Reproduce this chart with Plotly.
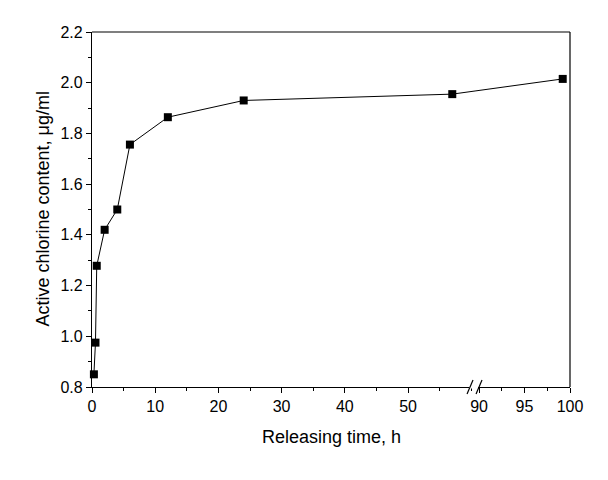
import plotly.graph_objects as go

# Data
time_h = [0.3, 0.55, 0.75, 2, 4, 6, 12, 24, 57, 99.2]
chlorine = [0.85, 0.975, 1.278, 1.42, 1.50, 1.756, 1.864, 1.93, 1.955, 2.015]

left_range = [0, 60.6]
right_range = [89.56, 100]
y_range = [0.8, 2.2]

x_ticks_left = [0, 10, 20, 30, 40, 50]
x_ticks_right = [90, 95, 100]
y_ticks = [0.8, 1.0, 1.2, 1.4, 1.6, 1.8, 2.0, 2.2]

split = 0.8013  # domain fraction of left segment

left_x = [t for t in time_h if t <= left_range[1]]
left_y = [c for t, c in zip(time_h, chlorine) if t <= left_range[1]]
right_x = [t for t in time_h if t >= right_range[0]]
right_y = [c for t, c in zip(time_h, chlorine) if t >= right_range[0]]

# straight visual connector across the axis break (in display fractions)
xa, ya = left_x[-1], left_y[-1]
xb, yb = right_x[0], right_y[0]
fa = split * (xa - left_range[0]) / (left_range[1] - left_range[0])
fb = split + (1 - split) * (xb - right_range[0]) / (right_range[1] - right_range[0])
y_break = ya + (yb - ya) * (split - fa) / (fb - fa)

FONT = "Liberation Sans, Arial, sans-serif"

fig = go.Figure()
line_style = dict(color="black", width=1)
marker_style = dict(symbol="square", size=8, color="black")

fig.add_trace(go.Scatter(x=left_x + [left_range[1]], y=left_y + [y_break], mode="lines",
                         line=line_style, xaxis="x", yaxis="y", showlegend=False,
                         hoverinfo="skip"))
fig.add_trace(go.Scatter(x=[right_range[0]] + right_x, y=[y_break] + right_y, mode="lines",
                         line=line_style, xaxis="x2", yaxis="y", showlegend=False,
                         hoverinfo="skip"))
fig.add_trace(go.Scatter(x=left_x, y=left_y, mode="markers", marker=marker_style,
                         xaxis="x", yaxis="y", showlegend=False, cliponaxis=False))
fig.add_trace(go.Scatter(x=right_x, y=right_y, mode="markers", marker=marker_style,
                         xaxis="x2", yaxis="y", showlegend=False, cliponaxis=False))

tickfont = dict(family=FONT, size=16, color="black")

fig.update_layout(
    width=600, height=472,
    margin=dict(l=84, r=38, t=24, b=93, autoexpand=False),
    paper_bgcolor="white", plot_bgcolor="white",
    font=dict(family=FONT, color="black"),
    xaxis=dict(domain=[0, split], range=left_range, tickvals=x_ticks_left,
               ticks="outside", ticklen=5, tickwidth=1, tickcolor="black",
               minor=dict(dtick=5, ticks="outside", ticklen=3, tickcolor="black", showgrid=False),
               showline=True, linecolor="black", linewidth=1.2, showgrid=False,
               zeroline=False, tickfont=tickfont, anchor="y"),
    xaxis2=dict(domain=[split, 1], range=right_range, tickvals=x_ticks_right,
                ticks="outside", ticklen=5, tickwidth=1, tickcolor="black",
                minor=dict(dtick=2.5, tick0=90, ticks="outside", ticklen=3, tickcolor="black", showgrid=False),
                showline=True, linecolor="black", linewidth=1.2, showgrid=False,
                zeroline=False, tickfont=tickfont, anchor="y"),
    yaxis=dict(range=y_range, tickvals=y_ticks, tickformat=".1f",
               ticks="outside", ticklen=5, tickwidth=1, tickcolor="black",
               minor=dict(dtick=0.1, tick0=0.8, ticks="outside", ticklen=3, tickcolor="black", showgrid=False),
               showline=True, linecolor="black", linewidth=1.2, showgrid=False,
               zeroline=False, tickfont=tickfont, anchor="x"),
)

# frame top and right
fig.add_shape(type="line", xref="paper", yref="paper", x0=0, x1=1, y0=1, y1=1,
              line=dict(color="black", width=1.2))
fig.add_shape(type="line", xref="paper", yref="paper", x0=1, x1=1, y0=0, y1=1,
              line=dict(color="black", width=1.2))

# axis break marks
pw, ph = 478.0, 355.0
bx = split
fig.add_shape(type="line", xref="paper", yref="paper",
              x0=bx - 6 / pw, x1=bx + 3 / pw, y0=0, y1=0,
              line=dict(color="white", width=3))
for dx in (-5.0, 4.0):
    fig.add_shape(type="line", xref="paper", yref="paper",
                  x0=bx + (dx - 3) / pw, x1=bx + (dx + 3) / pw,
                  y0=-7 / ph, y1=7 / ph,
                  line=dict(color="black", width=1.2))

fig.add_annotation(text="Releasing time, h", xref="paper", yref="paper",
                   x=0.5, y=-50 / ph, xanchor="center", yanchor="middle",
                   showarrow=False, font=dict(family=FONT, size=18, color="black"))
fig.add_annotation(text="Active chlorine content, μg/ml", xref="paper", yref="paper",
                   x=-50 / pw, y=0.5, xanchor="center", yanchor="middle", textangle=-90,
                   showarrow=False, font=dict(family=FONT, size=18, color="black"))

fig.write_html("out.html")
